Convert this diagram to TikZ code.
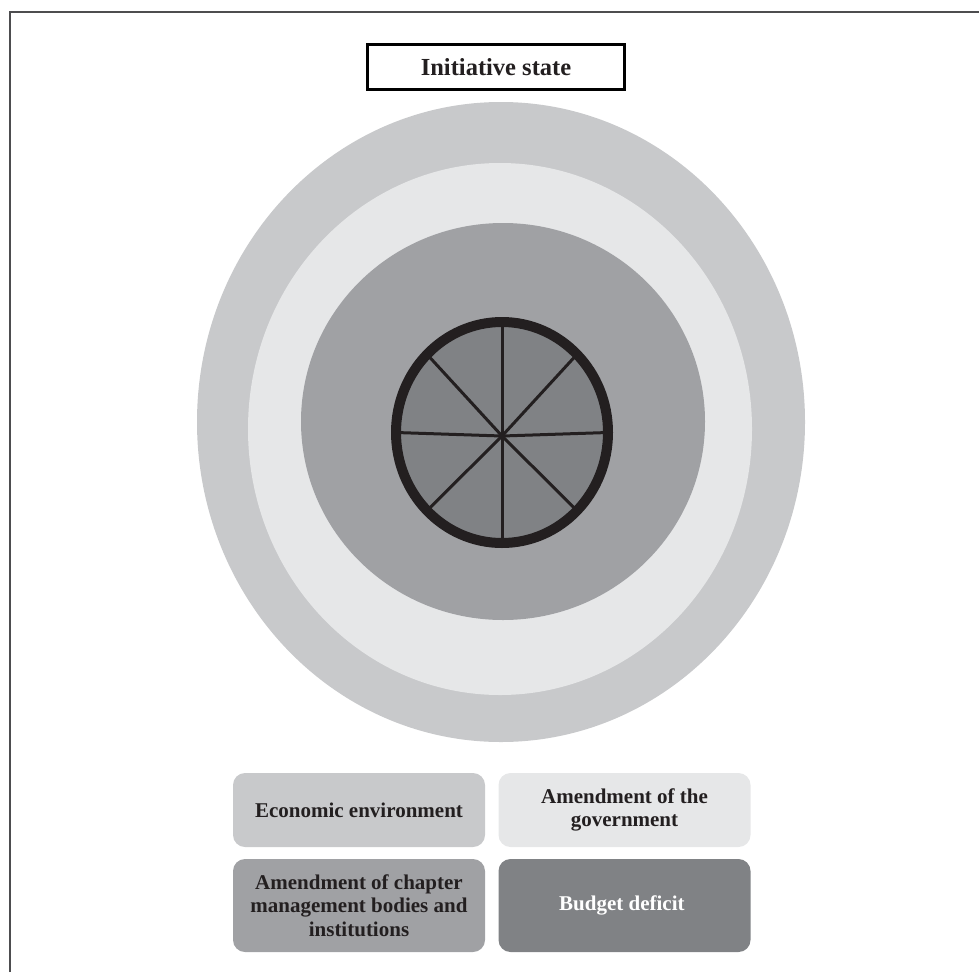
\documentclass[tikz,border=0pt]{standalone}
\usepackage{fontspec}
\setmainfont{Liberation Serif}
\usepackage{tikz}
\usetikzlibrary{positioning,calc}
\definecolor{RingOuter}{HTML}{C8C9CB}
\definecolor{RingMiddle}{HTML}{E6E7E8}
\definecolor{RingInner}{HTML}{A0A1A4}
\definecolor{WheelFill}{HTML}{808285}
\definecolor{WheelRim}{HTML}{231F20}
\definecolor{FrameGrey}{HTML}{4D4D4F}

\begin{document}
\begin{tikzpicture}[x=1pt,y=-1pt,
    titlebox/.style={draw=black, line width=3pt, fill=white,
          minimum width=257pt, minimum height=45pt,
          font=\fontsize{24.5}{28}\selectfont\bfseries, text=WheelRim},
    legendbox/.style={rounded corners=12pt, minimum width=252pt,
          align=center, inner sep=2pt,
          font=\fontsize{21}{23.5}\selectfont\bfseries}]
  \useasboundingbox (0,0) rectangle (979,972);
  % frame (only top and left edges show)
  \draw[FrameGrey, line width=2pt] (9.5,972) |- (979,12);
  \node[titlebox] (title) at (496,67) {Initiative state};
  % rings
  \fill[RingOuter]  (501,422) ellipse [x radius=304pt, y radius=320pt];
  \fill[RingMiddle] (500,429) ellipse [x radius=252pt, y radius=266pt];
  \fill[RingInner]  (503,421.5) ellipse [x radius=202pt, y radius=198.5pt];
  % wheel
  \coordinate (wheelc) at (502,432.5);
  \coordinate (hub) at (502,436);
  \filldraw[fill=WheelFill, draw=WheelRim, line width=10pt]
    (wheelc) ellipse [x radius=106pt, y radius=110.5pt];
  \foreach \a in {0,45,...,315}{
    \draw[WheelRim, line width=3pt] (hub) -- ($(wheelc)+(\a:106pt and 110.5pt)$);
  }
  % legend
  \foreach \nm/\x/\y/\h/\col/\tcol/\txt in {
    econ/359/810/74/RingOuter/WheelRim/{Economic environment},
    gov/624.5/810/74/RingMiddle/WheelRim/{Amendment of the\\government},
    chap/359/905.5/93/RingInner/WheelRim/{Amendment of chapter\\management bodies and\\institutions},
    deficit/624.5/905.5/93/WheelFill/white/{Budget deficit}
  }{
    \node[legendbox, fill=\col, text=\tcol, minimum height=\h pt] (\nm) at (\x,\y) {\txt};
  }
\end{tikzpicture}
\end{document}
